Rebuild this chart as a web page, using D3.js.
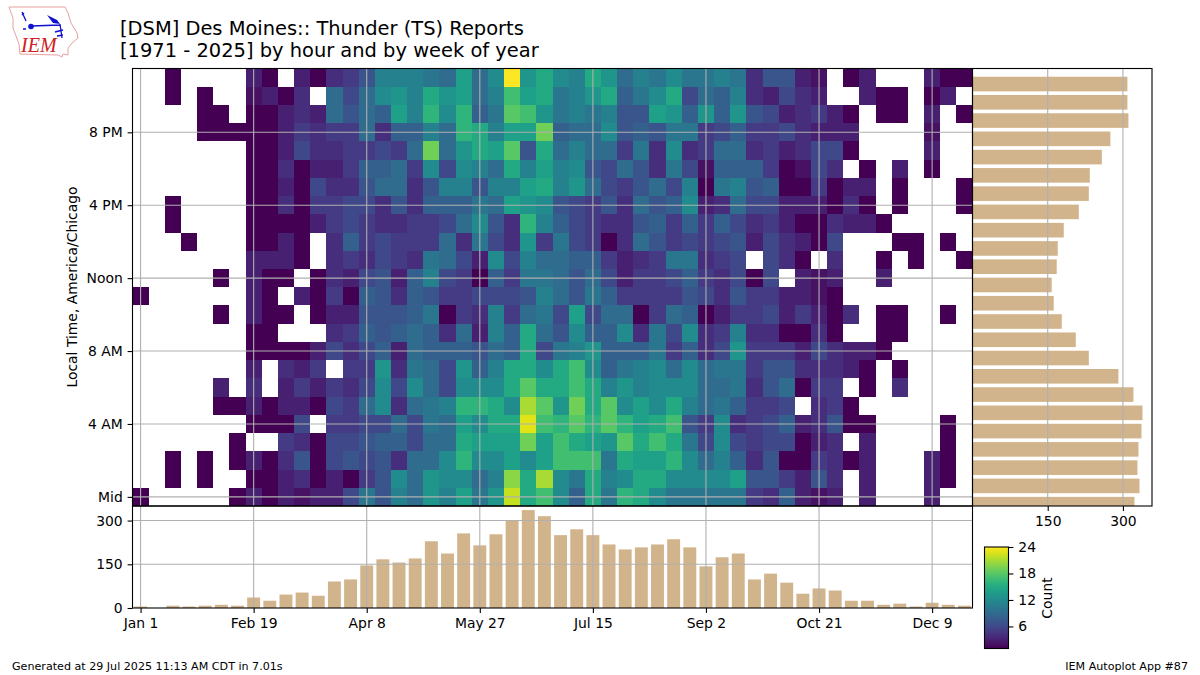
<!DOCTYPE html>
<html>
<head>
<meta charset="utf-8">
<script src="https://cdn.jsdelivr.net/npm/d3@7"></script>
<style>
  html, body { margin: 0; padding: 0; background: #fff; }
  text { font-family: "DejaVu Sans", sans-serif; fill: #000; }
  .tick text { font-size: 13.9px; }
  .tick line, .domain { stroke: #000; stroke-width: 1.1px; }
  .grid line { stroke: #b0b0b0; stroke-width: 1.1px; }
</style>
</head>
<body>
<svg id="chart" width="1200" height="675"></svg>
<script>
// counts per week of year (left to right), one array per hour of day
const h23 = [0,0,1,0,0,0,0,3,1,0, 3,1,4,5,7,11,11,11,10,9, 14,9,12,24,13,15,12,11,15,13, 9,11,10,12,10,10,11,10,4,7, 7,3,2,0,1,3,0,0,0,3, 1,1];
const h22 = [0,0,1,0,1,0,0,2,3,1, 4,0,9,6,9,12,13,11,15,13, 14,9,11,17,14,15,10,11,13,15, 8,10,12,15,6,9,8,11,4,3, 6,4,3,0,0,3,1,1,0,1, 3,0];
const h21 = [0,0,0,0,1,1,0,1,1,3, 4,3,9,7,9,8,14,11,16,12, 16,8,10,18,17,13,10,11,10,11, 7,7,14,13,8,13,8,13,7,6, 3,4,5,3,1,0,1,1,0,3, 0,1];
const h20 = [0,0,0,0,1,1,1,1,1,3, 5,4,5,5,9,4,8,8,11,9, 16,15,11,14,14,19,8,9,9,12, 7,8,7,10,10,5,6,8,5,5, 6,4,3,3,3,0,0,0,0,2, 0,0];
const h19 = [0,0,0,0,0,0,0,1,1,3, 6,4,4,5,5,6,5,9,19,9, 13,15,14,18,7,15,9,11,9,9, 5,10,4,12,4,5,9,9,4,5, 3,4,6,6,1,0,0,0,0,3, 0,0];
const h18 = [0,0,0,0,0,0,0,1,1,4, 1,3,3,5,8,8,9,5,12,6, 12,11,9,15,11,14,11,12,7,6, 9,7,4,10,6,2,8,8,8,5, 1,2,6,4,0,1,0,3,0,1, 0,0];
const h17 = [0,0,0,0,0,0,0,1,1,3, 1,6,4,4,7,9,9,4,7,11, 11,7,11,11,14,15,11,13,9,6, 5,7,9,6,11,1,10,11,7,8, 1,1,5,1,3,3,0,1,0,0, 0,1];
const h16 = [0,0,1,0,0,0,0,1,1,4, 1,5,5,6,6,4,7,4,8,8, 8,10,9,14,13,12,7,6,5,7, 4,9,7,8,12,3,4,9,6,6, 3,3,3,1,4,1,0,1,0,0, 0,1];
const h15 = [0,0,1,0,0,0,0,1,1,1, 1,3,5,6,5,4,4,5,5,6, 9,12,7,4,16,11,8,6,5,4, 4,7,8,5,8,5,8,6,4,5, 3,1,1,4,3,3,1,0,0,0, 0,0];
const h14 = [0,0,0,1,0,0,0,1,1,3, 1,0,4,8,5,6,5,5,5,9, 4,10,6,4,13,5,10,6,5,1, 4,9,7,5,6,5,6,7,3,6, 4,3,1,6,0,0,0,1,1,0, 1,0];
const h13 = [0,0,0,0,0,0,0,3,3,3, 1,0,4,5,4,6,5,4,10,9, 6,3,12,6,11,9,9,8,8,5, 3,4,5,10,10,4,5,6,0,6, 4,1,0,4,0,0,1,0,1,0, 0,1];
const h12 = [0,0,0,0,0,1,0,3,1,1, 0,1,4,3,6,7,3,8,11,6, 5,1,8,5,10,10,9,7,9,6, 3,5,5,6,8,5,4,6,1,6, 0,3,2,3,0,0,3,0,0,0, 0,0];
const h11 = [1,0,0,0,0,0,0,3,1,0, 3,1,5,1,8,7,4,8,7,5, 5,6,6,6,7,11,9,7,10,8, 5,5,5,5,7,6,4,7,5,5, 3,3,2,1,0,0,0,0,0,0, 0,0];
const h10 = [0,0,0,0,0,1,0,3,1,1, 0,1,3,3,7,7,7,8,10,1, 5,4,11,5,9,10,6,14,6,9, 9,1,5,9,8,1,3,5,5,6, 3,5,3,1,4,0,1,1,0,0, 1,0];
const h09 = [0,0,0,0,0,0,0,1,1,0, 0,0,4,5,8,7,8,9,8,4, 9,3,11,8,15,9,7,12,8,8, 12,4,10,6,12,4,5,11,4,4, 1,1,4,1,0,0,1,1,0,0, 0,0];
const h08 = [0,0,0,0,0,0,0,1,1,1, 1,3,6,4,6,8,3,9,8,8, 8,7,9,8,15,6,10,11,13,8, 8,8,10,5,8,4,6,13,5,5, 5,3,6,4,3,3,1,0,0,0, 0,0];
const h07 = [0,0,0,0,0,0,0,3,0,4, 3,5,0,5,5,13,4,10,9,6, 13,8,11,15,15,12,15,17,12,8, 10,11,12,9,12,9,10,10,5,7, 7,4,4,4,3,1,0,1,0,0, 0,0];
const h06 = [0,0,0,0,0,3,0,4,0,3, 5,3,5,4,6,12,6,12,9,6, 12,12,12,15,18,15,15,17,15,11, 13,11,12,12,12,9,9,10,4,7, 9,1,5,5,0,1,0,4,0,0, 0,0];
const h05 = [0,0,0,0,0,1,1,3,1,3, 3,1,6,5,9,12,4,9,10,11, 16,16,15,12,21,18,13,19,15,18, 12,14,12,15,11,9,10,8,5,5, 6,0,4,5,1,0,0,0,0,0, 0,0];
const h04 = [0,0,0,0,0,0,0,1,1,1, 6,0,5,5,6,6,9,6,10,9, 14,12,15,15,23,17,16,18,16,18, 16,14,15,17,7,5,12,4,5,6, 8,3,4,7,1,1,0,0,0,0, 1,0];
const h03 = [0,0,0,0,0,0,1,0,0,5, 4,1,6,6,7,8,8,6,9,9, 15,14,14,14,19,14,17,15,14,13, 18,15,17,15,10,6,12,6,5,6, 6,1,3,4,0,3,0,0,0,0, 1,0];
const h02 = [0,0,1,0,1,0,1,3,1,4, 7,1,6,7,6,7,4,9,9,12, 16,12,12,14,12,14,17,17,17,10, 15,14,14,16,12,9,11,8,4,7, 1,1,5,4,1,3,0,0,0,3, 1,0];
const h01 = [0,0,1,0,1,0,0,1,1,3, 4,1,3,1,5,7,12,9,13,12, 12,9,11,20,15,21,12,10,15,11, 12,15,15,12,12,12,12,14,7,7, 5,3,7,4,0,3,0,0,0,3, 1,0];
const h00 = [1,0,0,0,0,0,1,3,1,3, 2,3,3,6,10,7,11,9,13,11, 14,10,13,22,15,17,12,8,15,10, 16,15,12,10,10,10,10,10,5,4, 8,3,2,3,0,3,0,0,0,3, 0,0];
const hourRows = [h00,h01,h02,h03,h04,h05,h06,h07,h08,h09,h10,h11,h12,h13,h14,h15,h16,h17,h18,h19,h20,h21,h22,h23];

// marginal totals
const weekTotals = [5,0,8,5,8,11,8,36,25,46, 53,42,91,98,146,167,156,170,229,187, 256,215,253,300,336,315,250,270,250,218, 201,208,218,236,208,143,174,187,98,118, 87,49,67,60,25,25,11,15,5,18, 11,8];
const hourTotals = [323,333,329,331,337,339,321,291,232,206,178,162,158,168,170,182,212,232,234,258,275,311,309,309];

const weekTicks = [0,7,14,21,28,35,42,49];
const weekTickLabels = ["Jan 1","Feb 19","Apr 8","May 27","Jul 15","Sep 2","Oct 21","Dec 9"];
const hourTicks = [0,4,8,12,16,20];
const hourTickLabels = ["Mid","4 AM","8 AM","Noon","4 PM","8 PM"];
const totalTicks = [0,150,300];
const colorTicks = [6,12,18,24];

const barColor = "#d2b48c";
const svg = d3.select("#chart");

// layout of the panels
const plotLeft = 132.5, plotRight = 972.5, plotTop = 68.5, plotMid = 506, plotBottom = 608, sideRight = 1152;

const x = d3.scaleLinear().domain([-0.5, 51.5]).range([plotLeft, plotRight]);
const y = d3.scaleLinear().domain([-0.5, 23.5]).range([plotMid, plotTop]);
const yBottom = d3.scaleLinear().domain([0, 350]).range([plotBottom, plotMid]);
const xSide = d3.scaleLinear().domain([0, 358]).range([plotRight, sideRight]);
// side bars sit a little below their heatmap rows
const ySide = d3.scaleLinear().domain([-0.1, 23.85]).range([plotMid, plotTop]);
const color = d3.scaleSequential(d3.interpolateViridis).domain([1, 24]);

svg.append("clipPath").attr("id", "sideClip").append("rect")
  .attr("x", plotRight).attr("y", plotTop).attr("width", sideRight - plotRight).attr("height", plotMid - plotTop);

// heatmap
const cells = [];
hourRows.forEach((row, hour) => row.forEach((v, week) => { if (v > 0) cells.push({hour, week, v}); }));
svg.append("g").selectAll("rect")
  .data(cells)
  .enter()
  .append("rect")
  .attr("x", d => x(d.week - 0.5))
  .attr("y", d => y(d.hour + 0.5))
  .attr("width", x(1) - x(0))
  .attr("height", y(0) - y(1))
  .attr("shape-rendering", "crispEdges")
  .attr("fill", d => color(d.v));

// bottom bars
svg.append("g").selectAll("rect")
  .data(weekTotals)
  .enter()
  .append("rect")
  .attr("x", (d, i) => x(i - 0.4))
  .attr("y", d => yBottom(d))
  .attr("width", x(0.8) - x(0))
  .attr("height", d => plotBottom - yBottom(d))
  .attr("fill", barColor);

// side bars
svg.append("g").attr("clip-path", "url(#sideClip)").selectAll("rect")
  .data(hourTotals)
  .enter()
  .append("rect")
  .attr("x", plotRight)
  .attr("y", (d, i) => ySide(i + 0.4))
  .attr("width", d => xSide(d) - plotRight)
  .attr("height", ySide(0) - ySide(0.8))
  .attr("fill", barColor);

// grid lines go over the marks
const grid = svg.append("g").attr("class", "grid");
grid.selectAll(".v").data(weekTicks).enter().append("line")
  .attr("x1", d => x(d)).attr("x2", d => x(d)).attr("y1", plotTop).attr("y2", plotBottom);
grid.selectAll(".h").data(hourTicks).enter().append("line")
  .attr("x1", plotLeft).attr("x2", plotRight).attr("y1", d => y(d)).attr("y2", d => y(d));
grid.selectAll(".b").data(totalTicks.slice(1)).enter().append("line")
  .attr("x1", plotLeft).attr("x2", plotRight).attr("y1", d => yBottom(d)).attr("y2", d => yBottom(d));
grid.selectAll(".s").data(totalTicks.slice(1)).enter().append("line")
  .attr("x1", d => xSide(d)).attr("x2", d => xSide(d)).attr("y1", plotTop).attr("y2", plotMid);

// axes
svg.append("g").attr("transform", `translate(${plotLeft},0)`)
  .call(d3.axisLeft(y).tickValues(hourTicks).tickFormat((d, i) => hourTickLabels[i]).tickSize(4.9).tickPadding(4.9));
svg.append("g").attr("transform", `translate(${plotLeft},0)`)
  .call(d3.axisLeft(yBottom).tickValues(totalTicks).tickSize(4.9).tickPadding(4.9));
svg.append("g").attr("transform", `translate(0,${plotBottom})`)
  .call(d3.axisBottom(x).tickValues(weekTicks).tickFormat((d, i) => weekTickLabels[i]).tickSize(4.9).tickPadding(4.9));
svg.append("g").attr("transform", `translate(0,${plotMid})`)
  .call(d3.axisBottom(xSide).tickValues(totalTicks.slice(1)).tickSize(4.9).tickPadding(4.9));
svg.selectAll(".domain").remove();

// panel frames
[[plotLeft, plotTop, plotRight - plotLeft, plotMid - plotTop], [plotLeft, plotMid, plotRight - plotLeft, plotBottom - plotMid], [plotRight, plotTop, sideRight - plotRight, plotMid - plotTop]].forEach(b => {
  svg.append("rect").attr("x", b[0]).attr("y", b[1]).attr("width", b[2]).attr("height", b[3])
    .attr("fill", "none").attr("stroke", "#000").attr("stroke-width", 1.1);
});

// colorbar
const cbY = d3.scaleLinear().domain([1, 24]).range([648.5, 547]);
const grad = svg.append("defs").append("linearGradient").attr("id", "viridis")
  .attr("x1", 0).attr("x2", 0).attr("y1", 1).attr("y2", 0);
d3.range(0, 1.001, 0.05).forEach(t => {
  grad.append("stop").attr("offset", t).attr("stop-color", d3.interpolateViridis(t));
});
svg.append("rect").attr("x", 984.5).attr("y", 547).attr("width", 24).attr("height", 101.5)
  .attr("fill", "url(#viridis)").attr("stroke", "#000").attr("stroke-width", 1.1);
svg.append("g").attr("transform", "translate(1008.5,0)")
  .call(d3.axisRight(cbY).tickValues(colorTicks).tickSize(4.9).tickPadding(4.9))
  .select(".domain").remove();
svg.append("text").attr("transform", "translate(1052,598) rotate(-90)")
  .attr("text-anchor", "middle").style("font-size", "13.9px").text("Count");

// labels
svg.append("text").attr("transform", "translate(77,287) rotate(-90)")
  .attr("text-anchor", "middle").style("font-size", "13.9px").text("Local Time, America/Chicago");
svg.append("text").attr("x", 120).attr("y", 35).style("font-size", "19.44px").text("[DSM] Des Moines:: Thunder (TS) Reports");
svg.append("text").attr("x", 120).attr("y", 57).style("font-size", "19.44px").text("[1971 - 2025] by hour and by week of year");
svg.append("text").attr("x", 12).attr("y", 670).style("font-size", "11.11px").text("Generated at 29 Jul 2025 11:13 AM CDT in 7.01s");
svg.append("text").attr("x", 1188).attr("y", 670).attr("text-anchor", "end").style("font-size", "11.11px").text("IEM Autoplot App #87");

// IEM logo
const logo = svg.append("g");
logo.append("path")
  .attr("d", "M9,7 L65,7 L68,13 L71,23 L77,33 L78,38 L72,43 L68,48 L68,55 L63,54 L62,57 L58,55 L20,54 L19,44 L13,28 L13,18 Z")
  .attr("fill", "none").attr("stroke", "#e8a0a0").attr("stroke-width", 1);
logo.append("path")
  .attr("d", "M22,12 L26,21 M22,15 L24,13 M31,26 L60,25 M60,24 L62,38 M55,32 L63,30 M57,36 L63,35 M23,29 L26,29")
  .attr("fill", "none").attr("stroke", "#1010d0").attr("stroke-width", 1.3);
logo.append("path")
  .attr("d", "M47,15 L57,20 L60,24 L53,23 Z")
  .attr("fill", "#1010d0");
logo.append("circle").attr("cx", 31).attr("cy", 26.5).attr("r", 2.8).attr("fill", "#1010d0");
logo.append("text").attr("x", 21).attr("y", 52)
  .style("font-family", "'Liberation Serif', serif").style("font-style", "italic")
  .style("font-size", "20px").style("fill", "#d02020").text("IEM");
</script>
</body>
</html>
